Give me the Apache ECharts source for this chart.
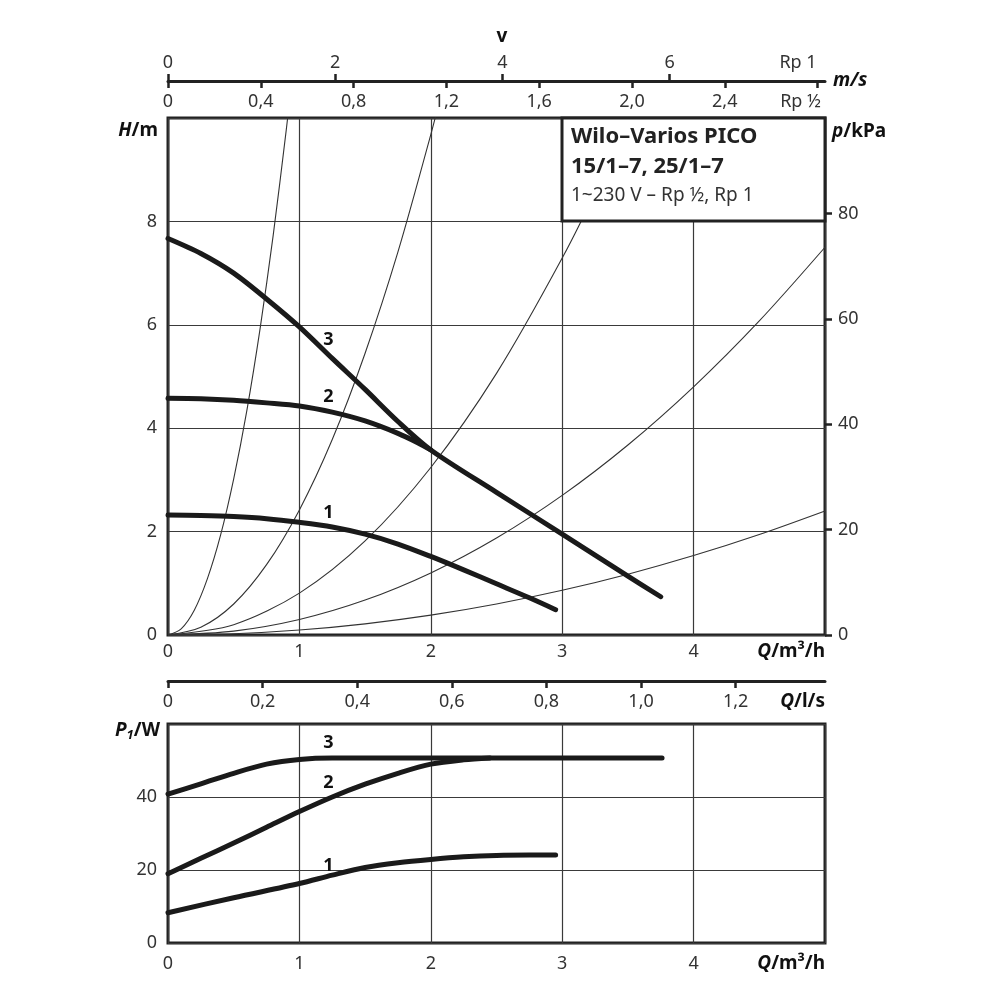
<!DOCTYPE html>
<html><head><meta charset="utf-8">
<script src="https://cdn.jsdelivr.net/npm/echarts@6/dist/echarts.min.js"></script>
<style>html,body{margin:0;padding:0;background:#fff}#c{width:1000px;height:1000px}</style>
</head><body><div id="c"></div>
<script>
// ---------------- data ----------------
const qMax = 5;            // Q / m³/h
const hMax = 10;           // H / m
const kpaMax = 98.1;       // p / kPa  (= hMax * 9.81)
const lsMax = 5 / 3.6;     // Q / l/s
const rpHalfMax = 2.832;   // v Rp ½ / m/s
const rp1Max = 7.859;      // v Rp 1 / m/s
const p1Max = 60;          // P1 / W

const kpaTicks = [0, 20, 40, 60, 80];
const lsTicks = [0, 0.2, 0.4, 0.6, 0.8, 1.0, 1.2];
const lsLabels = ['0', '0,2', '0,4', '0,6', '0,8', '1,0', '1,2'];
const rpHalfTicks = [0, 0.4, 0.8, 1.2, 1.6, 2.0, 2.4, 2.8];
const rpHalfLabels = ['0', '0,4', '0,8', '1,2', '1,6', '2,0', '2,4', 'Rp ½'];
const rp1Ticks = [0, 2, 4, 6];
const rp1Labels = ['0', '2', '4', '6'];

// pump curves H(Q)
const pumpH1 = [[0,2.32],[0.25,2.31],[0.5,2.29],[0.75,2.25],[1.0,2.18],[1.25,2.09],[1.5,1.95],[1.75,1.76],[2.0,1.52],[2.25,1.26],[2.5,0.99],[2.75,0.72],[2.95,0.49]];
const pumpH2 = [[0,4.58],[0.25,4.57],[0.5,4.54],[0.75,4.49],[1.0,4.43],[1.25,4.31],[1.5,4.14],[1.75,3.9],[1.9,3.72],[2.0,3.58]];
const pumpH3 = [[0,7.67],[0.25,7.38],[0.5,7.0],[0.75,6.5],[1.0,5.96],[1.25,5.35],[1.5,4.75],[1.75,4.13],[2.0,3.58],[2.5,2.76],[3.0,1.95],[3.5,1.14],[3.75,0.74]];

// system curves (thin)
const sysA = [[0,0],[0.1,0.12],[0.2,0.48],[0.3,1.09],[0.4,1.93],[0.5,3.02],[0.6,4.34],[0.7,5.91],[0.8,7.72],[0.9,9.77],[0.95,10.88]];
const sysB = [[0,0],[0.25,0.15],[0.5,0.6],[0.75,1.36],[1.0,2.42],[1.25,3.78],[1.5,5.45],[1.75,7.41],[2.0,9.68],[2.1,10.67]];
const sysC = [[0,0],[0.5,0.2],[1.0,0.81],[1.5,1.82],[2.0,3.24],[2.5,5.06],[3.0,7.29],[3.3,8.82],[3.6,10.5]];
const sysD = [[0,0],[0.5,0.075],[1.0,0.3],[1.5,0.675],[2.0,1.2],[2.5,1.875],[3.0,2.7],[3.5,3.675],[4.0,4.8],[4.5,6.075],[5.0,7.5]];
const sysE = [[0,0],[0.5,0.024],[1.0,0.096],[1.5,0.216],[2.0,0.384],[2.5,0.6],[3.0,0.864],[3.5,1.176],[4.0,1.536],[4.5,1.944],[5.0,2.4]];

// power curves P1(Q)
const power1 = [[0,8.3],[0.5,12.4],[1.0,16.3],[1.25,18.6],[1.5,20.7],[1.75,22.0],[2.0,22.9],[2.25,23.6],[2.5,24.0],[2.75,24.1],[2.95,24.1]];
const power2 = [[0,19.0],[0.25,23.2],[0.5,27.4],[0.75,31.7],[1.0,36.0],[1.25,40.0],[1.5,43.5],[1.75,46.5],[2.0,49.0],[2.25,50.2],[2.45,50.7]];
const power3 = [[0,40.8],[0.25,43.6],[0.5,46.5],[0.75,49.0],[1.0,50.3],[1.25,50.7],[1.5,50.7],[2.0,50.7],[3.0,50.7],[3.76,50.7]];

// curve number labels [Q, value, text]
const labelsH = [[1.22,5.71,'3'],[1.22,4.60,'2'],[1.22,2.36,'1']];
const labelsP = [[1.22,54.8,'3'],[1.22,43.8,'2'],[1.22,21.1,'1']];

// ---------------- chart ----------------
const FONT = '"Noto Sans", sans-serif';
const TXT = '#333', DARK = '#222';
const lab = (extra) => Object.assign({color: TXT, fontFamily: FONT, fontSize: 18}, extra || {});
const nameRich = {
  i: {fontFamily: FONT, fontSize: 19, fontWeight: 'bold', fontStyle: 'italic', color: '#111'},
  b: {fontFamily: FONT, fontSize: 19, fontWeight: 'bold', color: '#111'},
  s: {fontFamily: FONT, fontSize: 13, fontWeight: 'bold', fontStyle: 'italic', color: '#111', verticalAlign: 'bottom', padding: [9, 0, 0, 0]}
};
const split = {show: true, lineStyle: {color: '#3a3a3a', width: 1.2}};
const pick = (vals, labels) => (v) => {
  let best = 0;
  vals.forEach((t, i) => { if (Math.abs(t - v) < Math.abs(vals[best] - v)) best = i; });
  return labels[best];
};

function thick(data, xi, yi) {
  return {type: 'line', xAxisIndex: xi, yAxisIndex: yi, data: data, smooth: 0.3,
    symbol: 'none', silent: true, z: 5, lineStyle: {color: '#1a1a1a', width: 5, cap: 'round', join: 'round'}};
}
function thin(data) {
  return {type: 'line', xAxisIndex: 0, yAxisIndex: 0, data: data, smooth: 0.3,
    symbol: 'none', silent: true, z: 3, clip: true, lineStyle: {color: '#333', width: 1.1}};
}
function numLabels(data, xi, yi) {
  return {type: 'scatter', xAxisIndex: xi, yAxisIndex: yi, data: data, symbol: 'circle', symbolSize: 2, silent: true, z: 6,
    itemStyle: {color: 'rgba(255,255,255,0)'},
    label: {show: true, position: 'inside', formatter: p => p.value[2], fontFamily: FONT, fontSize: 18, fontWeight: 'bold', color: '#111', opacity: 1}};
}

const option = {
  animation: false,
  backgroundColor: '#fff',
  grid: [
    {left: 168, top: 118, width: 657, height: 517, show: true, borderColor: DARK, borderWidth: 3, backgroundColor: 'transparent', containLabel: false, outerBoundsMode: 'none'},
    {left: 168, top: 724, width: 657, height: 219, show: true, borderColor: DARK, borderWidth: 3, backgroundColor: 'transparent', containLabel: false, outerBoundsMode: 'none'}
  ],
  xAxis: [
    { // Q m3/h main
      type: 'value', gridIndex: 0, position: 'bottom', min: 0, max: qMax, interval: 1,
      axisLine: {show: false, onZero: false}, axisTick: {show: false}, splitLine: split,
      axisLabel: lab({margin: 8, showMaxLabel: false}),
      name: '{i|Q}{b|/m³/h}', nameLocation: 'end', nameGap: 0,
      nameTextStyle: {align: 'right', verticalAlign: 'top', padding: [7, 0, 0, 0], rich: nameRich}
    },
    { // Q l/s
      type: 'value', gridIndex: 0, position: 'bottom', offset: 46, min: 0, max: lsMax,
      axisLine: {show: true, onZero: false, lineStyle: {color: DARK, width: 3}},
      axisTick: {show: true, length: 7, customValues: lsTicks, lineStyle: {color: DARK, width: 2.5}},
      splitLine: {show: false},
      axisLabel: lab({margin: 12, customValues: lsTicks, formatter: pick(lsTicks, lsLabels)}),
      name: '{i|Q}{b|/l/s}', nameLocation: 'end', nameGap: 0,
      nameTextStyle: {align: 'right', verticalAlign: 'top', padding: [11, 0, 0, 0], rich: nameRich}
    },
    { // v Rp 1/2 (below line)
      type: 'value', gridIndex: 0, position: 'top', offset: 37, min: 0, max: rpHalfMax,
      axisLine: {show: true, onZero: false, lineStyle: {color: DARK, width: 3}},
      axisTick: {show: true, inside: true, length: 7, customValues: rpHalfTicks, lineStyle: {color: DARK, width: 2.5}},
      splitLine: {show: false},
      axisLabel: lab({inside: true, margin: 12, customValues: rpHalfTicks,
        formatter: v => { const t = pick(rpHalfTicks, rpHalfLabels)(v); return t === 'Rp ½' ? '{r|Rp ½}' : t; },
        rich: {r: {fontFamily: FONT, fontSize: 18, color: TXT, padding: [0, 34, 0, 0]}}}),
      name: '{i|m/s}', nameLocation: 'end', nameGap: 8,
      nameTextStyle: {align: 'left', verticalAlign: 'middle', rich: nameRich}
    },
    { // v Rp 1 (above line)
      type: 'value', gridIndex: 0, position: 'top', offset: 37, min: 0, max: rp1Max,
      axisLine: {show: false, onZero: false},
      axisTick: {show: true, length: 7, customValues: rp1Ticks, lineStyle: {color: DARK, width: 2.5}},
      splitLine: {show: false},
      axisLabel: lab({margin: 9, customValues: rp1Ticks, formatter: pick(rp1Ticks, rp1Labels)}),
      name: '{b|v}', nameLocation: 'middle', nameGap: 44,
      nameTextStyle: {verticalAlign: 'middle', padding: [0, 0, 0, 11], rich: nameRich}
    },
    { // Q m3/h power chart
      type: 'value', gridIndex: 1, position: 'bottom', min: 0, max: qMax, interval: 1,
      axisLine: {show: false, onZero: false}, axisTick: {show: false}, splitLine: split,
      axisLabel: lab({margin: 12, showMaxLabel: false}),
      name: '{i|Q}{b|/m³/h}', nameLocation: 'end', nameGap: 0,
      nameTextStyle: {align: 'right', verticalAlign: 'top', padding: [11, 0, 0, 0], rich: nameRich}
    }
  ],
  yAxis: [
    {
      type: 'value', gridIndex: 0, position: 'left', min: 0, max: hMax, interval: 2,
      axisLine: {show: false, onZero: false}, axisTick: {show: false}, splitLine: split,
      axisLabel: lab({margin: 11, showMaxLabel: false}),
      name: '{i|H}{b|/m}', nameLocation: 'end', nameGap: -13,
      nameTextStyle: {align: 'right', verticalAlign: 'middle', padding: [0, 10, 0, 0], rich: nameRich}
    },
    {
      type: 'value', gridIndex: 0, position: 'right', min: 0, max: kpaMax,
      axisLine: {show: false, onZero: false},
      axisTick: {show: true, length: 7, customValues: kpaTicks, lineStyle: {color: DARK, width: 2.5}},
      splitLine: {show: false},
      axisLabel: lab({margin: 13, customValues: kpaTicks}),
      name: '{i|p}{b|/kPa}', nameLocation: 'end', nameGap: -14,
      nameTextStyle: {align: 'left', verticalAlign: 'middle', padding: [0, 0, 0, 7], rich: nameRich}
    },
    {
      type: 'value', gridIndex: 1, position: 'left', min: 0, max: p1Max, interval: 20,
      axisLine: {show: false, onZero: false}, axisTick: {show: false}, splitLine: split,
      axisLabel: lab({margin: 11, showMaxLabel: false}),
      name: '{i|P}{s|1}{b|/W}', nameLocation: 'end', nameGap: -7,
      nameTextStyle: {align: 'right', verticalAlign: 'middle', padding: [0, 8, 0, 0], rich: nameRich}
    }
  ],
  series: [
    thin(sysA), thin(sysB), thin(sysC), thin(sysD), thin(sysE),
    thick(pumpH1, 0, 0), thick(pumpH2, 0, 0), thick(pumpH3, 0, 0),
    thick(power1, 4, 2), thick(power2, 4, 2), thick(power3, 4, 2),
    numLabels(labelsH, 0, 0), numLabels(labelsP, 4, 2)
  ],
  graphic: [
    {type: 'rect', z: 100, shape: {x: 562, y: 118, width: 263, height: 103},
      style: {fill: '#fff', stroke: DARK, lineWidth: 3}},
    {type: 'text', z: 101, x: 571, y: 137,
      style: {text: 'Wilo–Varios PICO', fill: '#222', font: 'bold 22px ' + FONT, verticalAlign: 'middle'}},
    {type: 'text', z: 101, x: 571, y: 167,
      style: {text: '15/1–7, 25/1–7', fill: '#222', font: 'bold 22px ' + FONT, verticalAlign: 'middle'}},
    {type: 'text', z: 101, x: 571, y: 196,
      style: {text: '1~230 V – Rp ½, Rp 1', fill: '#333', font: '19px ' + FONT, verticalAlign: 'middle'}},
    {type: 'text', z: 101, x: 798, y: 63,
      style: {text: 'Rp 1', fill: TXT, font: '18px ' + FONT, align: 'center', verticalAlign: 'middle'}}
  ]
};
const chart = echarts.init(document.getElementById('c'));
chart.setOption(option);
</script>
</body></html>
